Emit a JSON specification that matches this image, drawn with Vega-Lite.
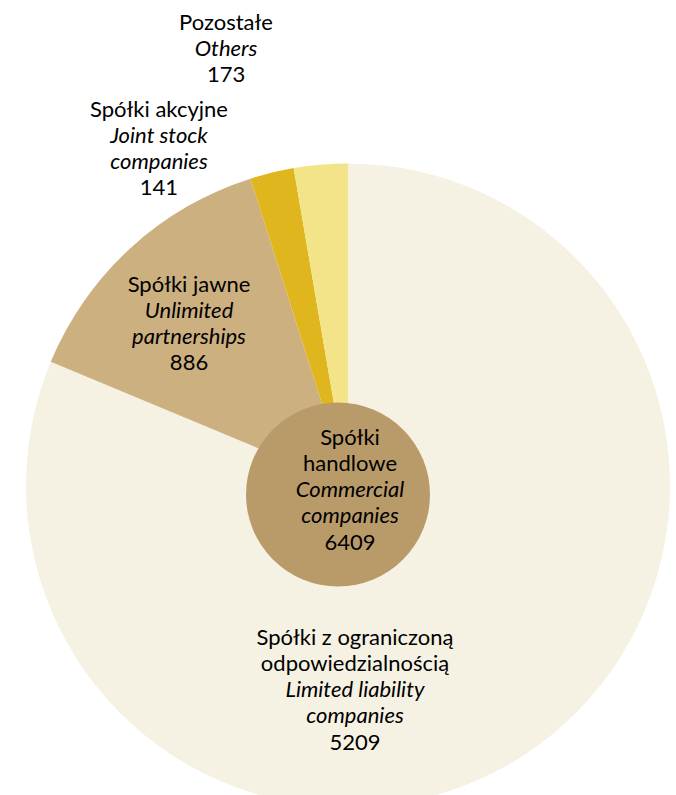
{
  "$schema": "https://vega.github.io/schema/vega-lite/v6.json",
  "width": 676,
  "height": 795,
  "autosize": {"type": "none"},
  "padding": {"left": 10, "top": 88, "right": 0, "bottom": 0},
  "background": "white",
  "config": {"view": {"stroke": null}, "text": {"font": "Lato", "fontSize": 22, "lineHeight": 26.25, "color": "#000000"}},
  "data": {"values": [
    {"cat": "LLC", "pl": "Spółki z ograniczoną\nodpowiedzialnością", "en": "Limited liability\ncompanies", "value": 5209, "rank": 1},
    {"cat": "Unlimited", "pl": "Spółki jawne", "en": "Unlimited\npartnerships", "value": 886, "rank": 2},
    {"cat": "Joint", "pl": "Spółki akcyjne", "en": "Joint stock\ncompanies", "value": 141, "rank": 3},
    {"cat": "Others", "pl": "Pozostałe", "en": "Others", "value": 173, "rank": 4}
  ]},
  "layer": [
    {"mark": {"type": "arc", "outerRadius": 322},
     "encoding": {
       "theta": {"field": "value", "type": "quantitative", "stack": true},
       "order": {"field": "rank", "type": "quantitative"},
       "color": {"field": "cat", "type": "nominal", "legend": null,
         "scale": {"domain": ["LLC", "Unlimited", "Joint", "Others"], "range": ["#F6F2E3", "#CDB080", "#DFB61E", "#F4E489"]}}
     }},
    {"transform": [{"aggregate": [{"op": "sum", "field": "value", "as": "total"}]}],
     "mark": {"type": "arc", "outerRadius": 92, "xOffset": -10, "yOffset": 9, "color": "#B99B6A"},
     "encoding": {"theta": {"field": "total", "type": "quantitative"}}},

    {"mark": {"type": "text", "radius": 472, "thetaOffset": -0.1766, "dy": 0, "lineBreak": "\n", "baseline": "alphabetic", "align": "center"},
     "encoding": {"theta": {"field": "value", "type": "quantitative", "stack": true}, "order": {"field": "rank", "type": "quantitative"}, "detail": {"field": "cat", "type": "nominal"},
       "text": {"condition": {"test": "datum.cat === 'Others'", "field": "pl", "type": "nominal"}, "value": ""}}},
    {"mark": {"type": "text", "radius": 472, "thetaOffset": -0.1766, "dy": 26.25, "lineBreak": "\n", "baseline": "alphabetic", "align": "center", "fontStyle": "italic"},
     "encoding": {"theta": {"field": "value", "type": "quantitative", "stack": true}, "order": {"field": "rank", "type": "quantitative"}, "detail": {"field": "cat", "type": "nominal"},
       "text": {"condition": {"test": "datum.cat === 'Others'", "field": "en", "type": "nominal"}, "value": ""}}},
    {"mark": {"type": "text", "radius": 472, "thetaOffset": -0.1766, "dy": 52.5, "baseline": "alphabetic", "align": "center"},
     "encoding": {"theta": {"field": "value", "type": "quantitative", "stack": true}, "order": {"field": "rank", "type": "quantitative"}, "detail": {"field": "cat", "type": "nominal"},
       "text": {"condition": {"test": "datum.cat === 'Others'", "field": "value", "type": "nominal"}, "value": ""}}},

    {"mark": {"type": "text", "radius": 414.6, "thetaOffset": -0.2347, "dy": 0, "lineBreak": "\n", "baseline": "alphabetic", "align": "center"},
     "encoding": {"theta": {"field": "value", "type": "quantitative", "stack": true}, "order": {"field": "rank", "type": "quantitative"}, "detail": {"field": "cat", "type": "nominal"},
       "text": {"condition": {"test": "datum.cat === 'Joint'", "field": "pl", "type": "nominal"}, "value": ""}}},
    {"mark": {"type": "text", "radius": 414.6, "thetaOffset": -0.2347, "dy": 26.25, "lineBreak": "\n", "baseline": "alphabetic", "align": "center", "fontStyle": "italic"},
     "encoding": {"theta": {"field": "value", "type": "quantitative", "stack": true}, "order": {"field": "rank", "type": "quantitative"}, "detail": {"field": "cat", "type": "nominal"},
       "text": {"condition": {"test": "datum.cat === 'Joint'", "field": "en", "type": "nominal"}, "value": ""}}},
    {"mark": {"type": "text", "radius": 414.6, "thetaOffset": -0.2347, "dy": 78.75, "baseline": "alphabetic", "align": "center"},
     "encoding": {"theta": {"field": "value", "type": "quantitative", "stack": true}, "order": {"field": "rank", "type": "quantitative"}, "detail": {"field": "cat", "type": "nominal"},
       "text": {"condition": {"test": "datum.cat === 'Joint'", "field": "value", "type": "nominal"}, "value": ""}}},

    {"mark": {"type": "text", "radius": 250.8, "thetaOffset": 0.0555, "dy": 0, "lineBreak": "\n", "baseline": "alphabetic", "align": "center"},
     "encoding": {"theta": {"field": "value", "type": "quantitative", "stack": true}, "order": {"field": "rank", "type": "quantitative"}, "detail": {"field": "cat", "type": "nominal"},
       "text": {"condition": {"test": "datum.cat === 'Unlimited'", "field": "pl", "type": "nominal"}, "value": ""}}},
    {"mark": {"type": "text", "radius": 250.8, "thetaOffset": 0.0555, "dy": 26.25, "lineBreak": "\n", "baseline": "alphabetic", "align": "center", "fontStyle": "italic"},
     "encoding": {"theta": {"field": "value", "type": "quantitative", "stack": true}, "order": {"field": "rank", "type": "quantitative"}, "detail": {"field": "cat", "type": "nominal"},
       "text": {"condition": {"test": "datum.cat === 'Unlimited'", "field": "en", "type": "nominal"}, "value": ""}}},
    {"mark": {"type": "text", "radius": 250.8, "thetaOffset": 0.0555, "dy": 78.75, "baseline": "alphabetic", "align": "center"},
     "encoding": {"theta": {"field": "value", "type": "quantitative", "stack": true}, "order": {"field": "rank", "type": "quantitative"}, "detail": {"field": "cat", "type": "nominal"},
       "text": {"condition": {"test": "datum.cat === 'Unlimited'", "field": "value", "type": "nominal"}, "value": ""}}},

    {"mark": {"type": "text", "radius": 159.2, "thetaOffset": 0.5442, "dy": 0, "lineBreak": "\n", "baseline": "alphabetic", "align": "center"},
     "encoding": {"theta": {"field": "value", "type": "quantitative", "stack": true}, "order": {"field": "rank", "type": "quantitative"}, "detail": {"field": "cat", "type": "nominal"},
       "text": {"condition": {"test": "datum.cat === 'LLC'", "field": "pl", "type": "nominal"}, "value": ""}}},
    {"mark": {"type": "text", "radius": 159.2, "thetaOffset": 0.5442, "dy": 52.5, "lineBreak": "\n", "baseline": "alphabetic", "align": "center", "fontStyle": "italic"},
     "encoding": {"theta": {"field": "value", "type": "quantitative", "stack": true}, "order": {"field": "rank", "type": "quantitative"}, "detail": {"field": "cat", "type": "nominal"},
       "text": {"condition": {"test": "datum.cat === 'LLC'", "field": "en", "type": "nominal"}, "value": ""}}},
    {"mark": {"type": "text", "radius": 159.2, "thetaOffset": 0.5442, "dy": 105, "baseline": "alphabetic", "align": "center"},
     "encoding": {"theta": {"field": "value", "type": "quantitative", "stack": true}, "order": {"field": "rank", "type": "quantitative"}, "detail": {"field": "cat", "type": "nominal"},
       "text": {"condition": {"test": "datum.cat === 'LLC'", "field": "value", "type": "nominal"}, "value": ""}}},

    {"transform": [{"aggregate": [{"op": "sum", "field": "value", "as": "total"}]}],
     "mark": {"type": "text", "dx": 2, "dy": -41, "lineBreak": "\n", "baseline": "alphabetic", "align": "center", "text": "Spółki\nhandlowe"},
     "encoding": {}},
    {"transform": [{"aggregate": [{"op": "sum", "field": "value", "as": "total"}]}],
     "mark": {"type": "text", "dx": 2, "dy": 11.5, "lineBreak": "\n", "baseline": "alphabetic", "align": "center", "fontStyle": "italic", "text": "Commercial\ncompanies"},
     "encoding": {}},
    {"transform": [{"aggregate": [{"op": "sum", "field": "value", "as": "total"}]}],
     "mark": {"type": "text", "dx": 2, "dy": 64, "baseline": "alphabetic", "align": "center"},
     "encoding": {"text": {"field": "total", "type": "nominal"}}}
  ]
}
